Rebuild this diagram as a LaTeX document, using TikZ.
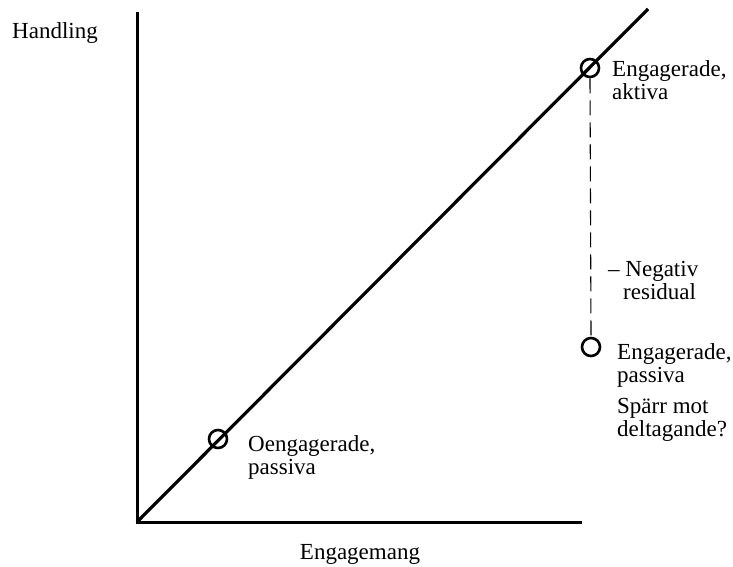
\documentclass[tikz,border=0pt]{standalone}
\usepackage{fontspec}
\setmainfont{Liberation Serif}
\begin{document}
\begin{tikzpicture}[x=1pt,y=-1pt,
  axis/.style={line width=3pt},
  trend/.style={line width=3.2pt},
  mark circle/.style={circle,draw,line width=2.6pt,minimum size=18pt,inner sep=0pt},
  resid/.style={line width=1.1pt,dash pattern=on 15pt off 7pt},
  lbl/.style={inner sep=0pt,align=left,font=\fontsize{23}{23.5}\selectfont},
]
\useasboundingbox (0,0) rectangle (733,567);
\coordinate (O) at (137,522);
\coordinate (ytop) at (137,12);
\coordinate (xend) at (582,522);
\coordinate (dend) at (648,9);
\draw[axis] (ytop) -- (O) -- (xend);
\draw[trend] (O) -- (dend);
\node[mark circle] (ea) at (590,68) {};
\node[mark circle] (op) at (218,439) {};
\node[mark circle] (ep) at (591,347) {};
\draw[resid] (ea.south) -- (ep.north);
\node[lbl,anchor=north west] (hl) at (12,22) {Handling};
\node[lbl,anchor=north] (xl) at (360,544) {Engagemang};
\node[lbl,anchor=north west] (eat) at (612,60) {Engagerade,\\ aktiva};
\node[lbl,anchor=north west] (nr) at (608,261) {-- Negativ\\ \hspace*{15pt}residual};
\node[lbl,anchor=north west] (ept) at (617,343) {Engagerade,\\ passiva};
\node[lbl,anchor=north west] (sp) at (617,398) {Spärr mot\\ deltagande?};
\node[lbl,anchor=north west] (opt) at (248,435) {Oengagerade,\\ passiva};
\end{tikzpicture}
\end{document}
